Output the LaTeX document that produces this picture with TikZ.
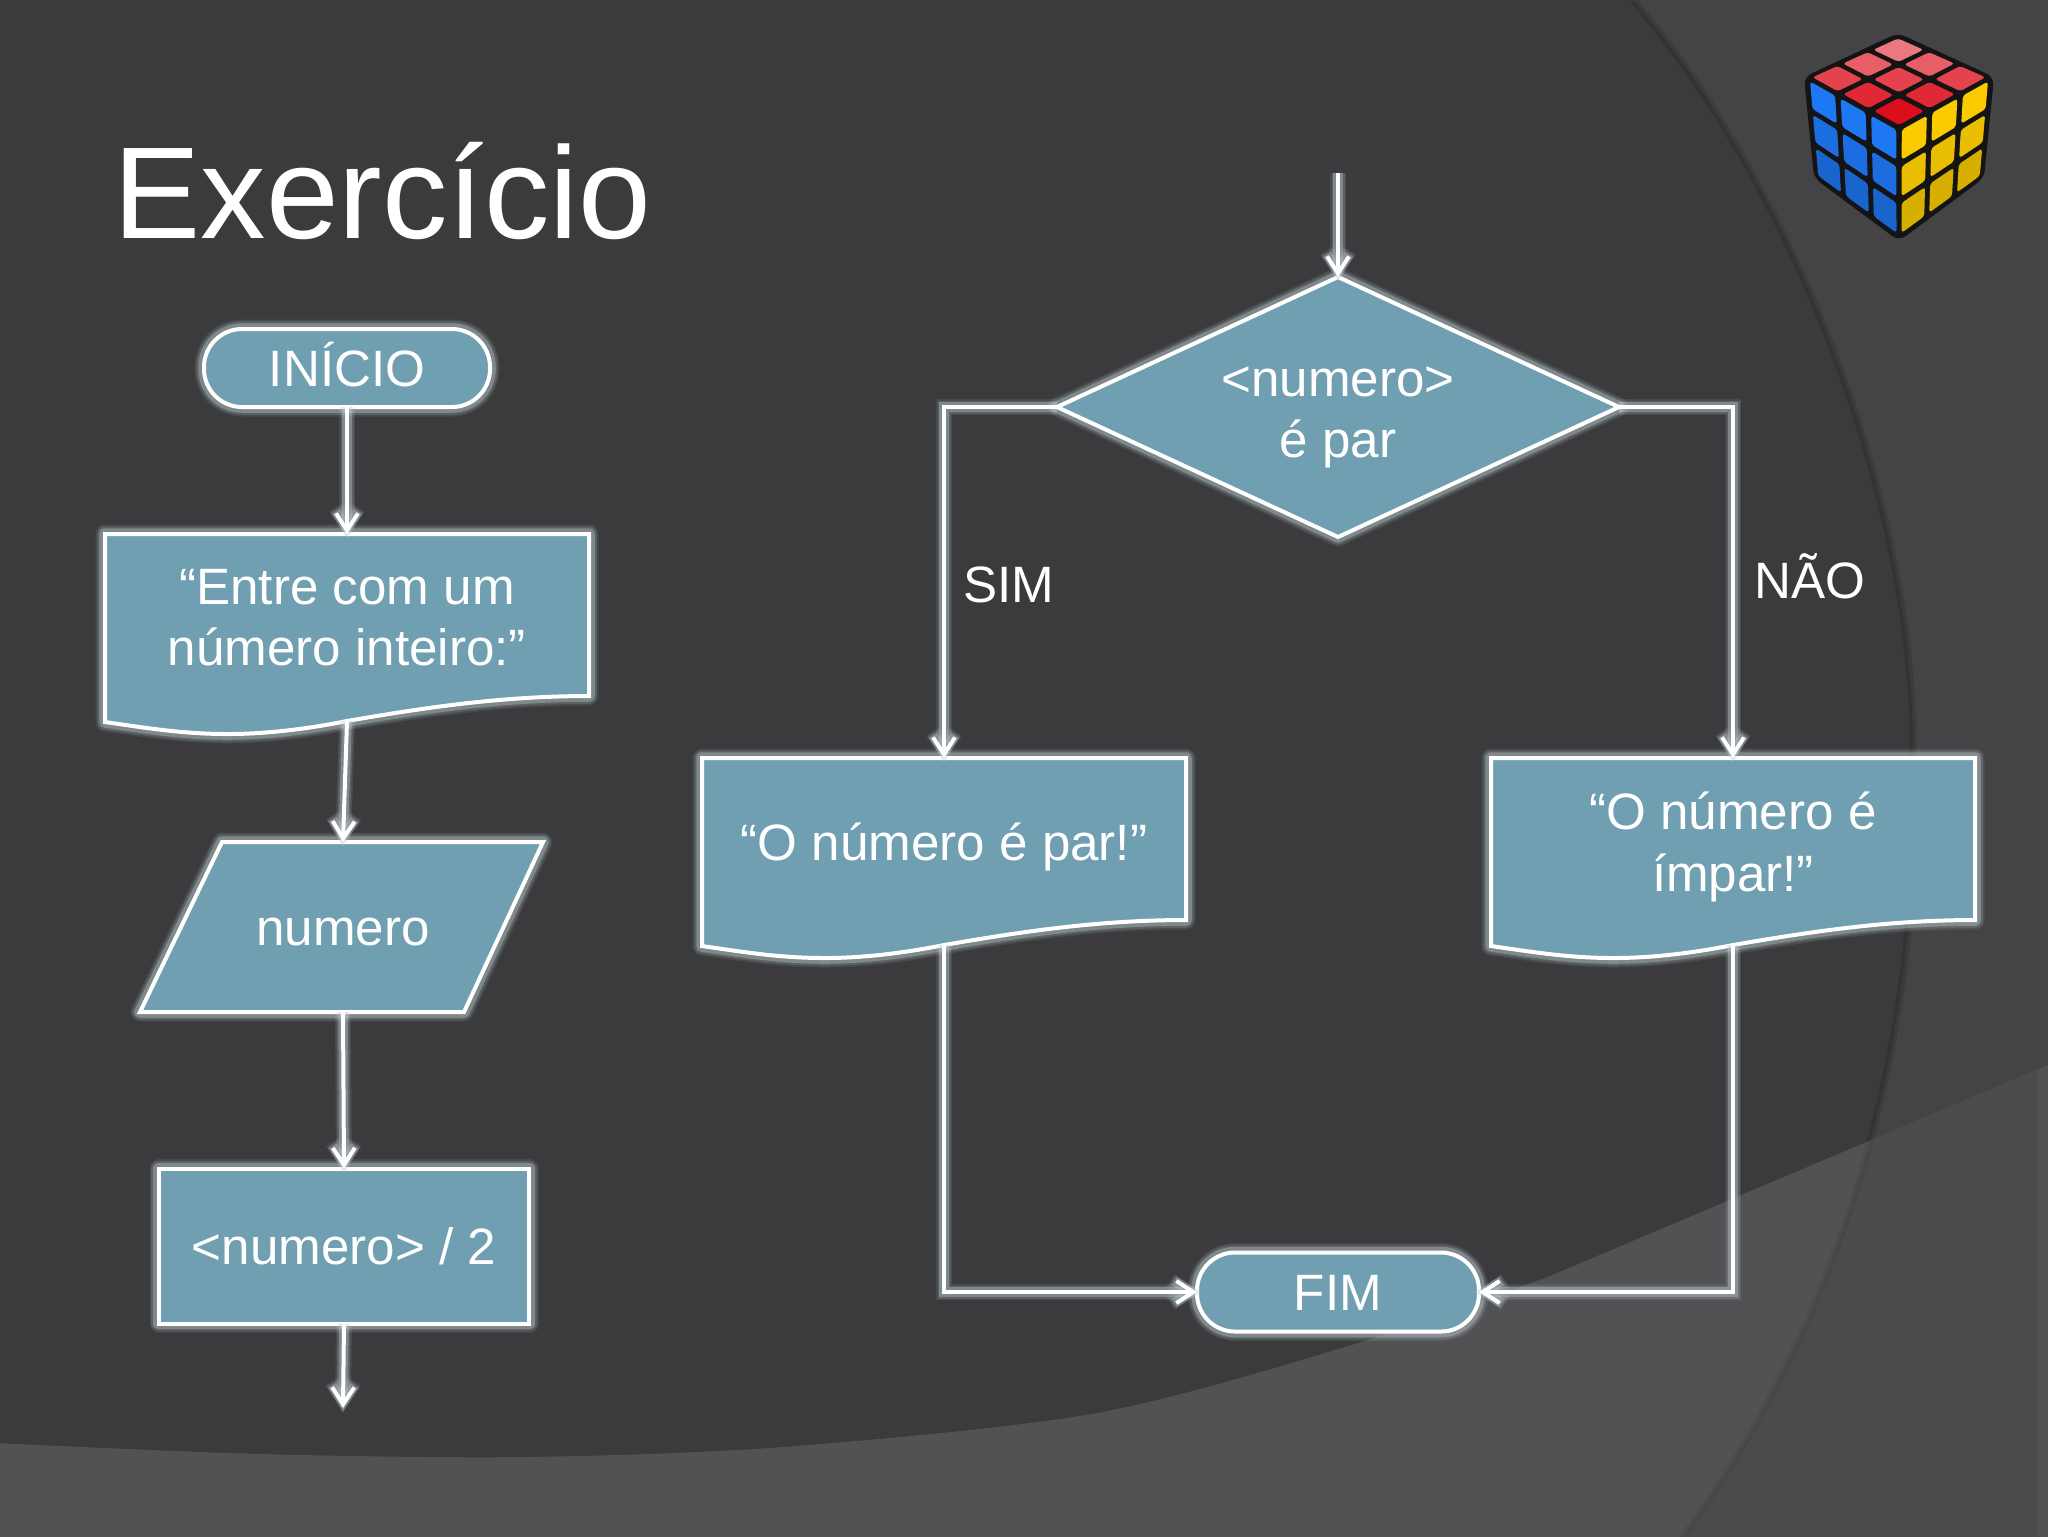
\documentclass[tikz,border=0pt]{standalone}
\usepackage{fontspec}
\setmainfont{Liberation Sans}
\usetikzlibrary{arrows.meta, calc, positioning, shapes.geometric}
\definecolor{escuro}{HTML}{3B3B3D}
\definecolor{arco}{HTML}{444446}
\definecolor{claro}{HTML}{525154}
\definecolor{faixa}{HTML}{4B4A4C}
\definecolor{caixa}{HTML}{6F9FB0}
\definecolor{brilho}{HTML}{C4D4D9}
\definecolor{cuboR}{HTML}{DC0E1C}
\definecolor{cuboA}{HTML}{1E78F4}
\definecolor{cuboY}{HTML}{FACC00}
\tikzset{
  halo/.style={preaction={draw=brilho, opacity=.1, line width=1.9mm, line join=round},
               preaction={draw=brilho, opacity=.16, line width=1.55mm, line join=round},
               preaction={draw=brilho, opacity=.35, line width=1.15mm, line join=round}},
  halofio/.style={preaction={draw=brilho, opacity=.1, line width=1.6mm, shorten >=-.5mm},
               preaction={draw=brilho, opacity=.16, line width=1.3mm, shorten >=-.4mm},
               preaction={draw=brilho, opacity=.35, line width=.95mm, shorten >=-.3mm}},
  bloco/.style={halo, draw=white, fill=caixa, line width=.4mm, inner sep=0pt, outer sep=0pt},
  vazio/.style={inner sep=0pt, outer sep=0pt},
  rotulo/.style={text=white, align=center, inner sep=0pt, font=\fontsize{14.55}{17.4}\selectfont},
  linha/.style={text height=3.7mm, text depth=0pt},
  fio/.style={halofio, draw=white, line width=.4mm, ->},
}
% name, x, top, text, text offset
\newcommand{\documento}[5]{
  \begin{scope}[shift={(#2,#3)}]
    \draw[bloco] (-242,0) -- (242,0) -- (242,162) .. controls (150,162) and (70,175) .. (0,187)
      .. controls (-45,196) and (-85,200) .. (-119,200) .. controls (-165,200) and (-200,194) .. (-242,188) -- cycle;
    \node[vazio, minimum width=48.4mm, minimum height=18.7mm] (#1) at (0,93.5) {};
    \node[rotulo] (#1txt) at (0,#5) {#4};
  \end{scope}
}
% corners of one cube face, colour, tone, colour mixed in
\newcommand{\faceta}[7]{
  \foreach \i in {0,1,2}{\foreach \j in {0,1,2}{
    \pgfmathsetmacro\su{(\i+.09)/3}
    \pgfmathsetmacro\sv{(\i+.91)/3}
    \pgfmathsetmacro\tu{(\j+.09)/3}
    \pgfmathsetmacro\tv{(\j+.91)/3}
    \pgfmathtruncatemacro\tom{#6}
    \fill[#5!\tom!#7, rounded corners=.3mm]
      ($($(#1)!\su!(#2)$)!\tu!($(#3)!\su!(#4)$)$) -- ($($(#1)!\sv!(#2)$)!\tu!($(#3)!\sv!(#4)$)$)
      -- ($($(#1)!\sv!(#2)$)!\tv!($(#3)!\sv!(#4)$)$) -- ($($(#1)!\su!(#2)$)!\tv!($(#3)!\su!(#4)$)$) -- cycle;
  }}
}
\def\curvaarco{(1633,0) .. controls (1780,170) and (1913,480) .. (1913,750) .. controls (1925,1050) and (1835,1330) .. (1683,1536)}
\begin{document}
\begin{tikzpicture}[x=.1mm, y=-.1mm, >={Straight Barb[length=1.7mm, width=2.2mm]}]
\useasboundingbox (0,0) rectangle (2048,1536);
\fill[arco] (-5,-5) rectangle (2053,1541);
\fill[escuro] \curvaarco -- (1683,1541) -- (-5,1541) -- (-5,-5) -- (1633,-5) -- cycle;
\draw[black, opacity=.12, line width=.7mm] \curvaarco;
\fill[claro] plot[smooth] coordinates {(-5,1443) (260,1454) (522,1457) (783,1447) (1097,1413) (1358,1343) (1550,1276)}
  -- (2053,1063) -- (2053,1541) -- (-5,1541) -- cycle;
\begin{scope}
  \clip (1550,1276) -- (2048,1065) -- (2053,1541) -- (1000,1541) -- (1000,1400) -- cycle;
  \fill[faixa] \curvaarco -- (1683,1541) -- (2037,1541) -- (2037,0) -- cycle;
  \draw[black, opacity=.05, line width=.7mm] \curvaarco;
\end{scope}

\node[text=white, inner sep=0pt, anchor=base west, font=\fontsize{37.2}{44}\selectfont] (titulo) at (113,238) {Exercício};

% cube
\fill[black!92, rounded corners=.8mm] (1898,33) -- (1994,77) -- (1984,178) -- (1899,241) -- (1814,178) -- (1804,77) -- cycle;
\faceta{1898,36}{1991,77}{1807,77}{1899,128}{cuboR}{100-11*(4-\i-\j)}{white}
\faceta{1807,77}{1899,128}{1816,177}{1899,238}{cuboA}{100-8*\j}{black}
\faceta{1899,128}{1991,77}{1899,238}{1982,177}{cuboY}{100-7*\j}{black}

% left chart
\node[bloco, rotulo, linha, minimum width=28.6mm, minimum height=7.8mm, rounded corners=3.8mm] (inicio) at (347,368) {INÍCIO};
\documento{entrada}{347}{534}{“Entre com um\\número inteiro:”}{84}
\draw[bloco] (222,842) -- (543,842) -- (464,1012) -- (140,1012) -- cycle;
\node[vazio, rotulo, linha, minimum width=32mm, minimum height=17mm] (numero) at (343,927) {numero};
\node[bloco, rotulo, linha, minimum width=37mm, minimum height=15.5mm] (metade) at (344,1246) {<numero> / 2};
\coordinate (saida) at (343,1408);
\draw[fio] (inicio.south) -- (entrada.north);
\draw[fio] (entrada.south) -- (numero.north);
\draw[fio] (numero.south) -- (metade.north);
\draw[fio] (metade.south) -- (saida);

% right chart
\coordinate (chegada) at (1338,173);
\node[bloco, diamond, aspect=2.16, minimum width=56.2mm, minimum height=26mm] (teste) at (1338,407) {};
\node[rotulo] (testetxt) at (1338,417) {<numero>\\é par};
\documento{par}{944}{758}{“O número é par!”}{89}
\documento{impar}{1733}{758}{“O número é\\ímpar!”}{89}
\node[bloco, rotulo, linha, minimum width=28.2mm, minimum height=7.9mm, rounded corners=3.8mm] (fim) at (1338,1292) {FIM};
\draw[fio] (chegada) -- (teste.north);
\draw[fio] (teste.west) -| (par.north);
\draw[fio] (teste.east) -| (impar.north);
\draw[fio] (par.south) |- (fim.west);
\draw[fio] (impar.south) |- (fim.east);
\node[rotulo] (sim) at (1009,585) {SIM};
\node[rotulo] (nao) at (1810,576) {NÃO};
\end{tikzpicture}
\end{document}
